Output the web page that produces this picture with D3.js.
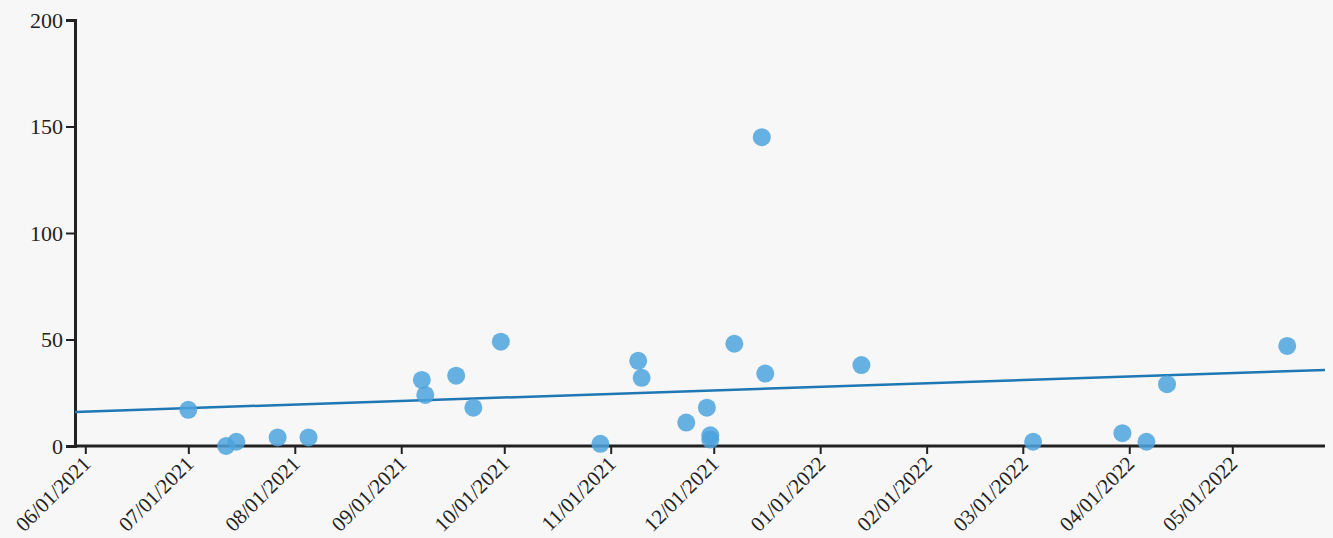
<!DOCTYPE html>
<html>
<head>
<meta charset="utf-8">
<script src="https://cdn.jsdelivr.net/npm/d3@7"></script>
<style>
  body { margin: 0; background: #f7f7f7; overflow: hidden; }
  svg { display: block; }
  .axis text { font-family: "Liberation Serif", "Times New Roman", serif; fill: #222; }
  .axis path, .axis line { stroke: #222; }
</style>
</head>
<body>
<div id="chart"><svg></svg></div>
<script>
// data
const dates = ["07/01/2021","07/12/2021","07/15/2021","07/27/2021","08/05/2021",
  "09/07/2021","09/08/2021","09/17/2021","09/22/2021","09/30/2021",
  "10/29/2021","11/09/2021","11/10/2021","11/23/2021","11/29/2021","11/30/2021","11/30/2021",
  "12/07/2021","12/15/2021","12/16/2021","01/13/2022",
  "03/04/2022","03/30/2022","04/06/2022","04/12/2022","05/17/2022"]
const values = [17,0,2,4,4,
  31,24,33,18,49,
  1,40,32,11,18,5,3,
  48,145,34,38,
  2,6,2,29,47]
const trendValues = [16, 35.7]   // trend line at start / end of the axis
const xDomain = ["05/29/2021","05/28/2022"]
const yTicks = [0,50,100,150,200]
const title = "Time to Merge Pull Requests vs. Date Opened"

var width = 1333
var height = 538
var margin = {top:20, right:8, bottom:92, left:75}

const parse = d3.timeParse("%m/%d/%Y")
const fmt = d3.timeFormat("%m/%d/%Y")

var svg = d3.select("#chart svg")
  .attr("width",width)
  .attr("height",height)

var x = d3.scaleTime()
  .domain(xDomain.map(parse))
  .range([margin.left, width-margin.right])

var y = d3.scaleLinear()
  .domain([0,200])
  .range([height-margin.bottom, margin.top])

// title (sits mostly above the view, as in the original)
svg.append("text")
  .attr("x",657)
  .attr("y",-5)
  .attr("text-anchor","middle")
  .style("font-family","Liberation Serif, serif")
  .style("font-size","24px")
  .style("fill","#222")
  .text(title)

// x axis
var xAxis = svg.append("g")
  .attr("class","axis")
  .attr("transform",`translate(0,${height-margin.bottom})`)
  .call(d3.axisBottom(x).ticks(d3.timeMonth.every(1)).tickFormat(fmt).tickSizeOuter(0).tickSize(8))
xAxis.select(".domain").remove()
xAxis.append("line")
  .attr("x1",x.range()[0])
  .attr("x2",x.range()[1])
  .attr("stroke","#222")
  .attr("stroke-width",3)
xAxis.selectAll(".tick line").attr("stroke-width",2)
xAxis.selectAll("text")
  .style("font-size","21px")
  .attr("text-anchor","end")
  .attr("x",0)
  .attr("y",0)
  .attr("dy",0)
  .attr("transform","translate(6,19) rotate(-45)")

// y axis
var yAxis = svg.append("g")
  .attr("class","axis")
  .attr("transform",`translate(${margin.left},0)`)
  .call(d3.axisLeft(y).tickValues(yTicks).tickSizeOuter(6).tickSize(9))
yAxis.select(".domain").attr("stroke-width",3)
yAxis.selectAll(".tick line").attr("stroke-width",2)
yAxis.selectAll("text").style("font-size","22px")

// trend line
svg.append("line")
  .attr("x1",x(parse(xDomain[0])))
  .attr("x2",x(parse(xDomain[1])))
  .attr("y1",y(trendValues[0]))
  .attr("y2",y(trendValues[1]))
  .attr("stroke","#1f77b4")
  .attr("stroke-width",2.5)

// points
svg.append("g")
  .selectAll("circle")
  .data(dates.map((d,i)=>({date:parse(d), value:values[i]})))
  .join("circle")
  .attr("cx",d=>x(d.date))
  .attr("cy",d=>y(d.value))
  .attr("r",9)
  .style("fill","#4da3de")
  .style("opacity",0.85)
</script>
</body>
</html>
